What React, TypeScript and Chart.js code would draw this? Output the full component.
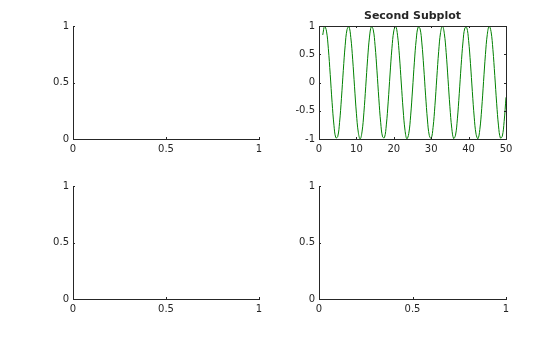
import React, { useEffect, useRef } from "react";
import { Chart, registerables } from "chart.js";

Chart.register(...registerables);

// ---- data ----
const sineX = [
  1, 1.5, 2, 2.5, 3, 3.5, 4, 4.5, 5, 5.5, 6, 6.5, 7, 7.5, 8, 8.5, 9, 9.5, 10, 10.5,
  11, 11.5, 12, 12.5, 13, 13.5, 14, 14.5, 15, 15.5, 16, 16.5, 17, 17.5, 18, 18.5, 19, 19.5, 20, 20.5,
  21, 21.5, 22, 22.5, 23, 23.5, 24, 24.5, 25, 25.5, 26, 26.5, 27, 27.5, 28, 28.5, 29, 29.5, 30, 30.5,
  31, 31.5, 32, 32.5, 33, 33.5, 34, 34.5, 35, 35.5, 36, 36.5, 37, 37.5, 38, 38.5, 39, 39.5, 40, 40.5,
  41, 41.5, 42, 42.5, 43, 43.5, 44, 44.5, 45, 45.5, 46, 46.5, 47, 47.5, 48, 48.5, 49, 49.5, 50,
];
const sineY = [
  0.8415, 0.9975, 0.9093, 0.5985, 0.1411, -0.3508, -0.7568, -0.9775, -0.9589, -0.7055,
  -0.2794, 0.2151, 0.657, 0.938, 0.9894, 0.7985, 0.4121, -0.0752, -0.544, -0.8797,
  -1.0, -0.8755, -0.5366, -0.0663, 0.4202, 0.8038, 0.9906, 0.9349, 0.6503, 0.2065,
  -0.2879, -0.7124, -0.9614, -0.9756, -0.751, -0.3425, 0.1499, 0.6055, 0.9129, 0.9968,
  0.8367, 0.4716, -0.0089, -0.4872, -0.8462, -0.9982, -0.9056, -0.5914, -0.1324, 0.3591,
  0.7626, 0.9793, 0.9564, 0.7001, 0.2709, -0.2238, -0.6636, -0.941, -0.988, -0.7936,
  -0.404, 0.084, 0.5514, 0.884, 0.9999, 0.8708, 0.5291, 0.0575, -0.4282, -0.809,
  -0.9918, -0.9322, -0.6435, -0.1978, 0.2964, 0.7179, 0.9638, 0.9735, 0.7451, 0.3344,
  -0.1586, -0.6129, -0.9165, -0.9961, -0.8318, -0.464, 0.0177, 0.4949, 0.8509, 0.9986,
  0.9018, 0.5842, 0.1236, -0.3672, -0.7683, -0.9817, -0.9538, -0.6915, -0.2624,
];
const unitTicks = [0, 0.5, 1];
const sineXTicks = [0, 10, 20, 30, 40, 50];
const sineYTicks = [-1, -0.5, 0, 0.5, 1];
const secondTitle = "Second Subplot";

// ---- styles ----
const TEXT = "#262626";
const AXIS = "#262626";
const LINE = "#008000";
const FONT = "'DejaVu Sans', sans-serif";
const Y_AXIS_W = 60;
const X_AXIS_H = 24;
const PAD_R = 20;
const TICK_LEN = 2;

type PanelProps = {
  left: number;
  top: number;
  plotW: number;
  plotH: number;
  padTop: number;
  xTicks: number[];
  yTicks: number[];
  title?: string;
  boxed?: boolean;
  xs?: number[];
  ys?: number[];
};

const insideTicks = {
  id: "insideTicks",
  afterDraw(chart: any, _args: any, opts: any) {
    const { ctx, chartArea: a, scales } = chart;
    const xs = scales.x;
    const ys = scales.y;
    ctx.save();
    ctx.strokeStyle = AXIS;
    ctx.lineWidth = 1;
    ctx.beginPath();
    for (const t of xs.ticks) {
      const px = Math.round(xs.getPixelForValue(t.value)) + 0.5;
      ctx.moveTo(px, a.bottom);
      ctx.lineTo(px, a.bottom - TICK_LEN);
      if (opts.boxed) {
        ctx.moveTo(px, a.top);
        ctx.lineTo(px, a.top + TICK_LEN);
      }
    }
    for (const t of ys.ticks) {
      const py = Math.round(ys.getPixelForValue(t.value)) + 0.5;
      ctx.moveTo(a.left, py);
      ctx.lineTo(a.left + TICK_LEN, py);
      if (opts.boxed) {
        ctx.moveTo(a.right, py);
        ctx.lineTo(a.right - TICK_LEN, py);
      }
    }
    if (opts.boxed) {
      const t = Math.round(a.top) + 0.5;
      const r = Math.round(a.right) + 0.5;
      ctx.moveTo(a.left, t);
      ctx.lineTo(r, t);
      ctx.moveTo(r, t);
      ctx.lineTo(r, a.bottom);
    }
    ctx.stroke();
    ctx.restore();
  },
};

const fmt = (v: any) => String(Number(v));

function Panel(p: PanelProps) {
  const ref = useRef<HTMLCanvasElement>(null);
  const w = Y_AXIS_W + p.plotW + PAD_R;
  const h = p.padTop + p.plotH + X_AXIS_H;

  useEffect(() => {
    if (!ref.current) return;
    const datasets: any[] = [];
    if (p.xs && p.ys) {
      datasets.push({
        data: p.xs.map((x, i) => ({ x, y: p.ys![i] })),
        borderColor: LINE,
        borderWidth: 1,
        pointRadius: 0,
        tension: 0.4,
        fill: false,
      });
    }
    const tickFont = { family: FONT, size: 10 };
    const chart = new Chart(ref.current, {
      type: "line",
      data: { datasets },
      options: {
        animation: false,
        responsive: false,
        devicePixelRatio: 1,
        events: [],
        layout: { padding: { top: p.title ? 0 : p.padTop, right: PAD_R, left: 0, bottom: 0 } },
        plugins: {
          legend: { display: false },
          tooltip: { enabled: false },
          title: p.title
            ? {
                display: true,
                fullSize: false,
                text: p.title,
                color: TEXT,
                font: { family: FONT, size: 11, weight: "bold", lineHeight: "14px" },
                padding: { top: 9, bottom: p.padTop - 23 },
              }
            : { display: false },
          insideTicks: { boxed: !!p.boxed },
        } as any,
        scales: {
          x: {
            type: "linear",
            min: p.xTicks[0],
            max: p.xTicks[p.xTicks.length - 1],
            afterBuildTicks: (s: any) => {
              s.ticks = p.xTicks.map((v) => ({ value: v }));
            },
            afterFit: (s: any) => {
              s.height = X_AXIS_H;
            },
            grid: { display: false, drawTicks: false },
            border: { display: true, color: AXIS, width: 1 },
            ticks: { padding: 4, color: TEXT, font: tickFont, autoSkip: false, maxRotation: 0, callback: fmt },
          },
          y: {
            type: "linear",
            min: p.yTicks[0],
            max: p.yTicks[p.yTicks.length - 1],
            afterBuildTicks: (s: any) => {
              s.ticks = p.yTicks.map((v) => ({ value: v }));
            },
            afterFit: (s: any) => {
              s.width = Y_AXIS_W;
            },
            grid: { display: false, drawTicks: false },
            border: { display: true, color: AXIS, width: 1 },
            ticks: { padding: 4, color: TEXT, font: tickFont, autoSkip: false, callback: fmt },
          },
        },
      } as any,
      plugins: [insideTicks],
    });
    return () => chart.destroy();
  }, []);

  return (
    <canvas
      ref={ref}
      width={w}
      height={h}
      style={{ position: "absolute", left: p.left, top: p.top, width: w, height: h }}
    />
  );
}

export default function App() {
  return (
    <div
      style={{
        position: "absolute",
        left: 0,
        top: 0,
        width: 560,
        height: 337,
        background: "#ffffff",
        overflow: "hidden",
      }}
    >
      <Panel left={13} top={0} plotW={186} plotH={113} padTop={26} xTicks={unitTicks} yTicks={unitTicks} />
      <Panel
        left={259}
        top={0}
        plotW={187}
        plotH={113}
        padTop={26}
        xTicks={sineXTicks}
        yTicks={sineYTicks}
        title={secondTitle}
        boxed
        xs={sineX}
        ys={sineY}
      />
      <Panel left={13} top={160} plotW={186} plotH={113} padTop={26} xTicks={unitTicks} yTicks={unitTicks} />
      <Panel left={259} top={160} plotW={187} plotH={113} padTop={26} xTicks={unitTicks} yTicks={unitTicks} />
    </div>
  );
}
